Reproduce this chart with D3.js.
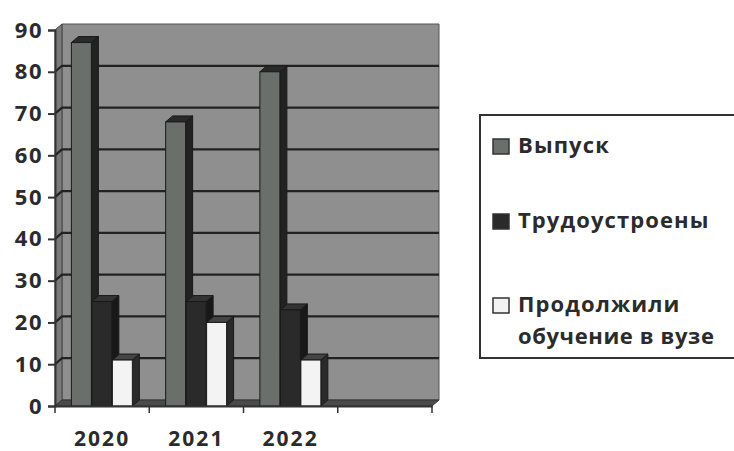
<!DOCTYPE html>
<html>
<head>
<meta charset="utf-8">
<script src="https://cdn.jsdelivr.net/npm/d3@7"></script>
<style>
  body { margin: 0; background: #fff; }
  text { font-family: "Open Sans", "Noto Sans", sans-serif; font-weight: bold; fill: #2b2b2b; }
</style>
</head>
<body>
<svg id="chart"></svg>
<script>
// data
var categories = ["2020", "2021", "2022", ""];
var seriesNames = ["Выпуск", "Трудоустроены", "Продолжили обучение в вузе"];
var vypusk = [87, 68, 80];
var trudoustroeny = [25, 25, 23];
var prodolzhili = [11, 20, 11];
var yTicks = [0, 10, 20, 30, 40, 50, 60, 70, 80, 90];

var width = 734, height = 451;
var svg = d3.select("#chart").attr("width", width).attr("height", height);

var dx = 7, dy = -6; // 3d depth offset

var x = d3.scaleBand().domain(categories).range([55, 432]);
var xs = d3.scaleBand().domain(seriesNames).range([0, x.bandwidth()])
    .paddingInner(0).paddingOuter(0.8);
var y = d3.scaleLinear().domain([0, 90]).range([406, 30]);

var x0 = x.range()[0], x1 = x.range()[1];
var yb = y(0), yt = y(90);

function pts(a) { return a.map(function(p) { return p.join(","); }).join(" "); }

// walls
svg.append("polygon")
    .attr("points", pts([[x0 + dx, yt + dy], [x1 + dx, yt + dy], [x1 + dx, yb + dy], [x0 + dx, yb + dy]]))
    .attr("fill", "#8f8f8f").attr("stroke", "#555").attr("stroke-width", 1);
svg.append("polygon")
    .attr("points", pts([[x0, yt], [x0 + dx, yt + dy], [x0 + dx, yb + dy], [x0, yb]]))
    .attr("fill", "#7a7a7a").attr("stroke", "#444").attr("stroke-width", 1);
svg.append("polygon")
    .attr("points", pts([[x0, yb], [x0 + dx, yb + dy], [x1 + dx, yb + dy], [x1, yb]]))
    .attr("fill", "#4a4a4a").attr("stroke", "#333").attr("stroke-width", 1);

// gridlines on back and left walls
var grid = svg.append("g").attr("stroke", "#222").attr("stroke-width", 2.2).attr("fill", "none");
grid.selectAll("path").data(yTicks.filter(function(d) { return d > 0 && d < 90; }))
  .enter().append("path")
    .attr("d", function(d) {
      return "M" + x0 + "," + y(d) + "L" + (x0 + dx) + "," + (y(d) + dy) + "L" + (x1 + dx) + "," + (y(d) + dy);
    });

// bars
var series = [
  { name: seriesNames[0], values: vypusk, front: "#6a6f6b", side: "#222", top: "#2a2a2a" },
  { name: seriesNames[1], values: trudoustroeny, front: "#2a2a2a", side: "#181818", top: "#333" },
  { name: seriesNames[2], values: prodolzhili, front: "#f3f3f3", side: "#2a2a2a", top: "#444" }
];

var barW = xs.bandwidth() - 0.5;
categories.forEach(function(cat, i) {
  series.forEach(function(s) {
    var v = s.values[i];
    if (v === undefined) return;
    var bx = x(cat) + xs(s.name), by = y(v), b0 = y(0);
    var g = svg.append("g").attr("stroke", "#1a1a1a").attr("stroke-width", 1);
    g.append("polygon")
      .attr("points", pts([[bx + barW, by], [bx + barW + dx, by + dy], [bx + barW + dx, b0 + dy], [bx + barW, b0]]))
      .attr("fill", s.side);
    g.append("polygon")
      .attr("points", pts([[bx, by], [bx + dx, by + dy], [bx + barW + dx, by + dy], [bx + barW, by]]))
      .attr("fill", s.top);
    g.append("rect")
      .attr("x", bx).attr("y", by).attr("width", barW).attr("height", b0 - by)
      .attr("fill", s.front);
  });
});

// y axis
var yAxis = svg.append("g").attr("transform", "translate(" + x0 + ",0)")
    .call(d3.axisLeft(y).tickValues(yTicks).tickSize(7).tickPadding(5));
yAxis.select(".domain").attr("stroke", "#333").attr("stroke-width", 2);
yAxis.selectAll(".tick line").attr("stroke", "#333").attr("stroke-width", 2);
yAxis.selectAll(".tick text").attr("font-size", 22).attr("fill", "#2b2b2b")
    .attr("letter-spacing", 1.5)
    .attr("font-family", "'Open Sans', sans-serif").attr("font-weight", "bold");

// x axis
var xAxis = svg.append("g").attr("transform", "translate(0," + yb + ")")
    .call(d3.axisBottom(x).tickSize(0).tickPadding(25));
xAxis.select(".domain").attr("stroke", "#333").attr("stroke-width", 2);
xAxis.selectAll(".tick text").attr("font-size", 21).attr("fill", "#2b2b2b")
    .attr("letter-spacing", 2)
    .attr("font-family", "'Open Sans', sans-serif").attr("font-weight", "bold");
svg.append("g").attr("stroke", "#333").attr("stroke-width", 1.5)
  .selectAll("line").data(categories.concat(["end"]))
  .enter().append("line")
    .attr("x1", function(d) { return d === "end" ? x1 : x(d); })
    .attr("x2", function(d) { return d === "end" ? x1 : x(d); })
    .attr("y1", yb).attr("y2", yb + 7);

// legend
var legend = svg.append("g");
legend.append("rect")
    .attr("x", 480).attr("y", 115).attr("width", 270).attr("height", 243)
    .attr("fill", "#fff").attr("stroke", "#333").attr("stroke-width", 2);
var legendY = [146, 221, 305];
series.forEach(function(s, i) {
  var ly = legendY[i];
  legend.append("rect")
      .attr("x", 493).attr("y", ly - 7).attr("width", 16).attr("height", 15)
      .attr("fill", s.front).attr("stroke", "#333").attr("stroke-width", 1.5);
  var t = legend.append("text").attr("x", 518).attr("y", ly + 7)
      .attr("font-size", 22).attr("letter-spacing", 1.1);
  if (i === 2) {
    t.text("Продолжили");
    legend.append("text").attr("x", 518).attr("y", ly + 39)
        .attr("font-size", 22).attr("letter-spacing", 0.6).text("обучение в вузе");
  } else {
    t.text(s.name);
  }
});
</script>
</body>
</html>
